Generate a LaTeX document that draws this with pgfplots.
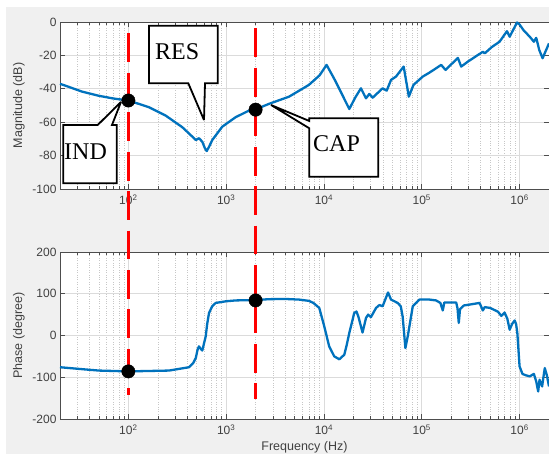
\documentclass[border=0pt]{standalone}
\usepackage{pgfplots}
\pgfplotsset{compat=1.18}
\usepackage{fontspec}
\setmainfont{Liberation Sans}
\newfontfamily\timesfont{Liberation Serif}
\definecolor{figgray}{HTML}{F0F0F0}
\definecolor{mblue}{HTML}{0072BD}
\definecolor{axgray}{HTML}{4D4D4D}
\definecolor{txtgray}{HTML}{404040}
\definecolor{redl}{HTML}{FF0000}
\pgfplotsset{
  mstyle/.style={
    scale only axis, width=489pt, height=167pt,
    xmin=20, xmax=2e6,
    xtick={100,1000,10000,100000,1000000},
    xticklabels={10\textsuperscript{2},10\textsuperscript{3},10\textsuperscript{4},10\textsuperscript{5},10\textsuperscript{6}},
    minor xtick={30,40,50,60,70,80,90,200,300,400,500,600,700,800,900,2000,3000,4000,5000,6000,7000,8000,9000,20000,30000,40000,50000,60000,70000,80000,90000,200000,300000,400000,500000,600000,700000,800000,900000},
    grid=both,
    major grid style={draw=black!14, line width=0.6pt},
    minor grid style={draw=black!22, dotted, line width=0.6pt},
    axis line style={draw=axgray, line width=0.6pt},
    tick style={draw=axgray, line width=0.6pt},
    major tick length=5pt, minor tick length=3pt,
    tick align=inside,
    ticklabel style={font=\fontsize{12}{14}\selectfont, text=txtgray},
    xticklabel style={yshift=-2pt},
    label style={font=\fontsize{12.5}{15}\selectfont, text=txtgray},
    axis background/.style={fill=white},
    clip=false,
  },
}
\begin{document}
\begin{tikzpicture}[x=1pt,y=1pt]
\fill[white] (0,0) rectangle (549,454);
\fill[figgray] (6,0) rectangle (549,447);
% ---------- Magnitude ----------
\begin{semilogxaxis}[mstyle, at={(60pt,265pt)}, anchor=south west,
  ymin=-100, ymax=0, ytick={-100,-80,-60,-40,-20,0},
  yticklabels={-100,-80,-60,-40,-20,0},
  ylabel={Magnitude (dB)},
  ylabel style={at={(axis description cs:-0.084,0.5)}, anchor=center}]
\addplot[mblue, line width=2.3pt, line join=round] coordinates {
(20,-37) (25,-39) (33.6,-41.7) (50,-44.2) (70,-45.8) (100,-47) (162,-51) (240,-56) (356,-63) (430,-67.5) (489,-70.7) (527,-69.6) (570,-71.7) (605,-75.5) (632,-77.3) (665,-75) (721,-70.7) (912,-62.7) (1250,-57) (1720,-53) (2000,-52.3) (2750,-49) (4400,-44.7) (7000,-37.7) (9000,-32) (10640,-25.7) (13000,-35) (18160,-52.1) (21000,-45) (23900,-39.7) (26900,-45.7) (29100,-43.1) (31500,-45.3) (39800,-39.7) (43800,-41.1) (48500,-34.7) (54500,-32.7) (65300,-26.7) (73800,-44.7) (82200,-37.7) (102300,-32.7) (120000,-30.3) (158000,-25.7) (175000,-28.7) (234000,-21.5) (253000,-26.7) (300000,-23.5) (422000,-17.8) (440000,-18.8) (520000,-15) (625000,-11.8) (743000,-5.5) (792000,-8.8) (942000,-0.3) (1000000,-1.5) (1100000,-5) (1270000,-8.8) (1400000,-11.8) (1480000,-9.5) (1590000,-16.8) (1720000,-21.7) (1800000,-19) (2000000,-12.8)
};
\addplot[redl, line width=3pt, dash pattern=on 29pt off 10.5pt] coordinates {(100,-6.6) (100,-137.7)};
\addplot[redl, line width=3pt, dash pattern=on 29pt off 10.5pt] coordinates {(2000,-3.6) (2000,-137.7)};
\addplot[only marks, mark=*, mark size=6.7pt, black] coordinates {(100,-47) (2000,-52.5)};
\end{semilogxaxis}
% ---------- Phase ----------
\begin{semilogxaxis}[mstyle, at={(60pt,35pt)}, anchor=south west,
  ymin=-200, ymax=200, ytick={-200,-100,0,100,200},
  yticklabels={-200,-100,0,100,200},
  ylabel={Phase (degree)},
  ylabel style={at={(axis description cs:-0.084,0.5)}, anchor=center},
  xlabel={Frequency (Hz)},
  xlabel style={at={(axis description cs:0.5,-0.172)}, anchor=center}]
\addplot[mblue, line width=2.3pt, line join=round] coordinates {
(20,-76) (35,-81) (50,-84) (100,-86) (260,-84) (417,-76) (460,-66) (489,-54) (510,-34) (527,-26) (545,-31) (570,-36) (595,-18) (618,-2) (640,28) (668,54) (720,70) (782,78) (1000,82) (1250,84) (2000,85) (2754,87) (4000,87.5) (5580,86) (7000,83) (7800,78) (8950,66) (10070,22) (11300,-26) (12740,-50) (14350,-57) (16140,-46) (17000,-25) (18160,6) (20400,54) (21500,57.5) (22500,45) (24800,7) (26900,42) (28300,50) (30200,44) (34100,66) (36900,73) (39800,70) (43800,95) (45200,103) (48500,86) (56700,78) (61000,70) (63800,45) (68000,-30) (71900,-2) (80900,70) (94700,86) (120000,86) (140000,84) (155000,78) (164000,60) (170000,79) (225000,79) (232000,65) (239000,30) (246000,63) (270000,72) (308000,74) (390000,78) (421000,60) (440000,68) (500000,66) (601000,57) (650000,47) (703000,55) (750000,40) (792000,14) (840000,28) (891000,36) (920000,28) (949000,6) (1000000,-74) (1070000,-92) (1150000,-95) (1270000,-98) (1400000,-92) (1480000,-110) (1550000,-134) (1600000,-106) (1700000,-122) (1810000,-78) (1900000,-95) (2000000,-122)
};
\addplot[redl, line width=3pt, dash pattern=on 29pt off 10.5pt, dash phase=21.5pt] coordinates {(100,200) (100,-143.7)};
\addplot[redl, line width=3pt, dash pattern=on 29pt off 10.5pt, dash phase=26.5pt] coordinates {(2000,200) (2000,-151.6)};
\addplot[only marks, mark=*, mark size=6.7pt, black] coordinates {(100,-86) (2000,84)};
\end{semilogxaxis}
% ---------- Callouts ----------
\begin{scope}[line width=1.8pt, draw=black, fill=white, miter limit=4]
\filldraw (149,428.3) -- (217.7,428.3) -- (217.7,370.7) -- (205,370.7) -- (204,334) -- (188.3,370.7) -- (149,370.7) -- cycle;
\filldraw (63.3,329) -- (97.7,329) -- (121,352) -- (112,329) -- (116.7,329) -- (116.7,270.7) -- (63.3,270.7) -- cycle;
\filldraw (309.3,335.7) -- (378.3,335.7) -- (378.3,277.3) -- (309.3,277.3) -- (309.3,325.7) -- (271,349) -- (309.3,333) -- cycle;
\end{scope}
\node[anchor=base west, inner sep=0pt, font=\timesfont\fontsize{24}{26}\selectfont] at (155,394) {RES};
\node[anchor=base west, inner sep=0pt, font=\timesfont\fontsize{24}{26}\selectfont] at (64,294) {IND};
\node[anchor=base west, inner sep=0pt, font=\timesfont\fontsize{24}{26}\selectfont] at (313,302) {CAP};
\pgfresetboundingbox
\path[use as bounding box] (0,0) rectangle (549,454);
\end{tikzpicture}
\end{document}
